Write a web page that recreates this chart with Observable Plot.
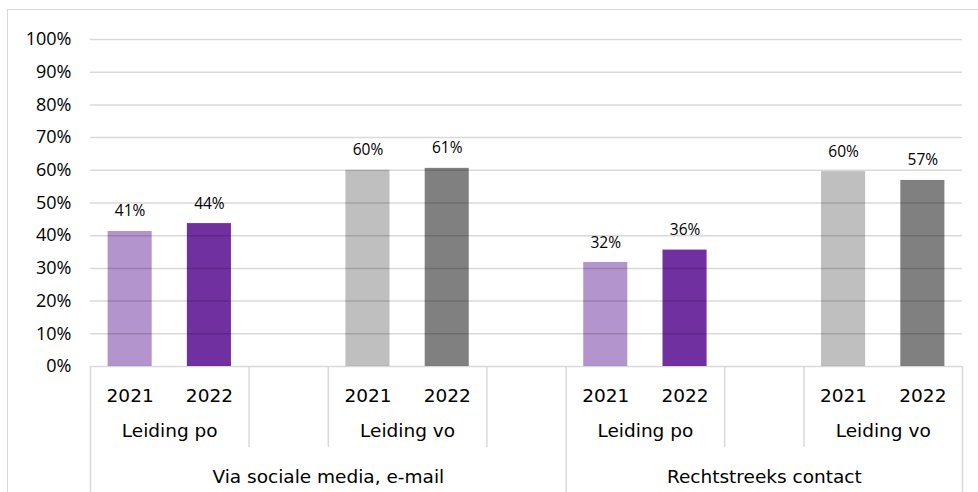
<!DOCTYPE html>
<html><head><meta charset="utf-8">
<script src="https://cdn.jsdelivr.net/npm/d3@7"></script>
<script src="https://cdn.jsdelivr.net/npm/@observablehq/plot@0.6"></script>
<style>
html,body{margin:0;padding:0;background:#fff;overflow:hidden;}
#wrap{position:relative;width:978px;height:492px;overflow:hidden;}
#frame{position:absolute;left:7px;top:9px;width:1100px;height:700px;border:1.5px solid #d9d9d9;box-sizing:border-box;}
#chart{position:absolute;left:0;top:0;}
</style></head><body>
<div id="wrap"><div id="frame"></div><div id="chart"></div></div>
<script>
const topics = ["Via sociale media, e-mail", "Rechtstreeks contact"];
const groups = ["Leiding po", "Leiding vo"];
const years = ["2021", "2022"];
// order: topic -> group -> year
const values = [41.3, 43.7, 60.0, 60.6, 31.8, 35.6, 59.6, 56.9];
const yTicks = [0, 10, 20, 30, 40, 50, 60, 70, 80, 90, 100];

const seriesKeys = ["Leiding po 2021", "Leiding po 2022", "Leiding vo 2021", "Leiding vo 2022"];
const seriesFills = ["#b394cd", "#7030a0", "#bfbfbf", "#808080"];

// build category slots (Excel-style multi-level axis with blank categories between groups)
const rows = [], mids = [], tops = [];
let slot = 0, k = 0;
topics.forEach((t, ti) => {
  const start = slot;
  groups.forEach((g, gi) => {
    const gStart = slot;
    years.forEach(yr => {
      rows.push({topic: t, group: g, year: yr, key: g + " " + yr, value: values[k++], slot});
      slot++;
    });
    mids.push({label: g, x1: gStart, x2: slot});
    const last = ti === topics.length - 1 && gi === groups.length - 1;
    if (!last) { mids.push({label: "", x1: slot, x2: slot + 1}); slot++; }
  });
  tops.push({label: t, x1: start, x2: slot});
});
const topSeps = Array.from(new Set(tops.flatMap(d => [d.x1, d.x2])));
const midSeps = Array.from(new Set(mids.flatMap(d => [d.x1, d.x2]))).filter(v => !topSeps.includes(v));

const catFont = "DejaVu Sans";
const numFont = "Open Sans";
const catSize = 18.5;

const chart = Plot.plot({
  width: 978,
  height: 492,
  marginLeft: 90,
  marginRight: 16,
  marginTop: 39,
  marginBottom: 126,
  x: {domain: [0, slot], axis: null},
  y: {domain: [0, 100], axis: null},
  color: {domain: seriesKeys, range: seriesFills},
  style: {background: "transparent", overflow: "visible"},
  marks: [
    Plot.rect(rows, {
      x1: "slot", x2: d => d.slot + 1, y1: () => 0, y2: "value",
      fill: "key", insetLeft: 17.6, insetRight: 17.6
    }),
    Plot.ruleY(yTicks, {y: d => d, stroke: "#000", strokeOpacity: 0.15, strokeWidth: 1.5}),
    Plot.axisY(yTicks, {
      label: null, tickSize: 0, tickPadding: 19, tickFormat: d => d + "%",
      fontSize: 18, fontFamily: numFont, fill: "#000"
    }),
    Plot.text(rows, {
      x: d => d.slot + 0.5, y: "value", text: d => Math.round(d.value) + "%",
      lineAnchor: "bottom", dy: -15, fontSize: 15.5, fontFamily: numFont, fill: "#000"
    }),
    Plot.ruleX(midSeps, {x: d => d, stroke: "#d9d9d9", strokeWidth: 1.5, insetTop: 327, insetBottom: -81}),
    Plot.ruleX(topSeps, {x: d => d, stroke: "#d9d9d9", strokeWidth: 1.5, insetTop: 327, insetBottom: -140}),
    Plot.text(rows, {
      x: d => d.slot + 0.5, text: "year", frameAnchor: "bottom", lineAnchor: "bottom",
      dy: 35, fontSize: catSize, fontFamily: catFont, fill: "#000"
    }),
    Plot.text(mids, {
      x: d => (d.x1 + d.x2) / 2, text: "label", frameAnchor: "bottom", lineAnchor: "bottom",
      dy: 70, fontSize: catSize, fontFamily: catFont, fill: "#000"
    }),
    Plot.text(tops, {
      x: d => (d.x1 + d.x2) / 2, text: "label", frameAnchor: "bottom", lineAnchor: "bottom",
      dy: 116, fontSize: catSize, fontFamily: catFont, fill: "#000"
    })
  ]
});
document.getElementById("chart").appendChild(chart);
</script>
</body></html>
